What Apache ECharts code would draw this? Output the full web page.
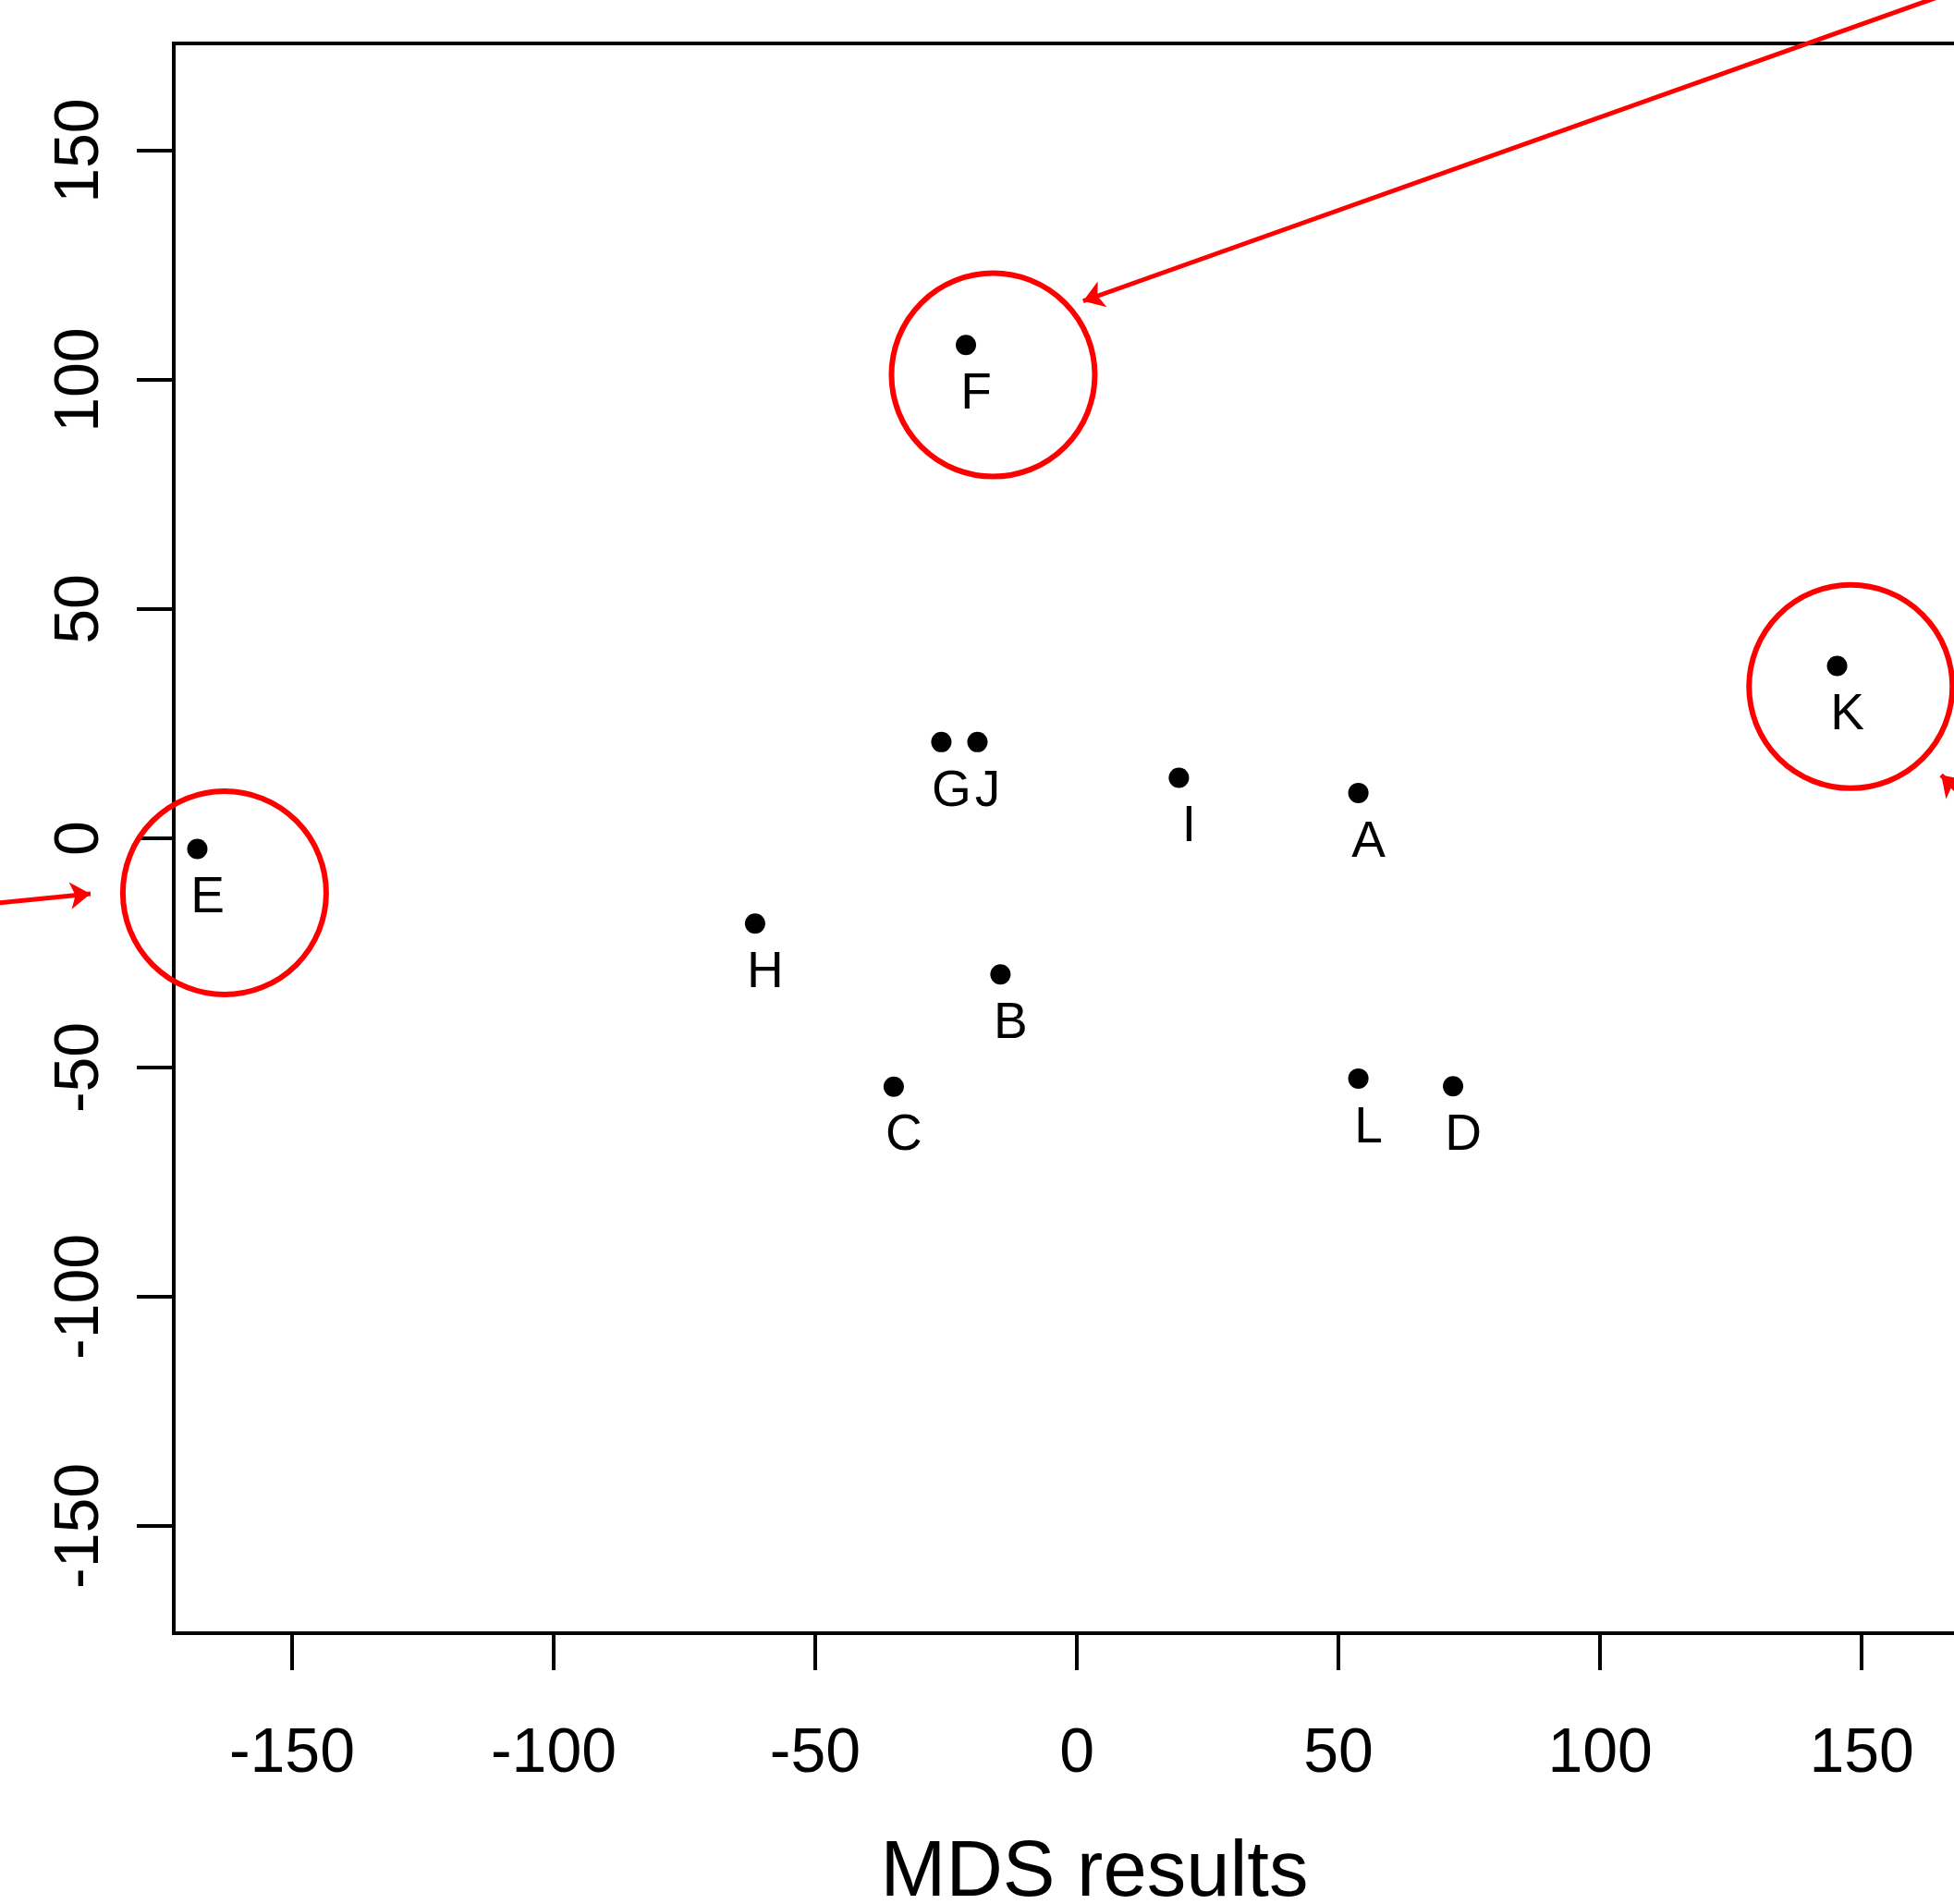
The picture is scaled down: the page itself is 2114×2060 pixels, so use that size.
<!DOCTYPE html>
<html>
<head>
<meta charset="utf-8">
<script src="https://cdn.jsdelivr.net/npm/echarts@6/dist/echarts.min.js"></script>
<style>
  html, body { margin: 0; padding: 0; background: #fff; }
  #chart { width: 2114px; height: 2060px; }
</style>
</head>
<body>
<div id="chart"></div>
<script>
const pointNames = ['A', 'B', 'C', 'D', 'E', 'F', 'G', 'H', 'I', 'J', 'K', 'L'];
const mdsX = [53.8, -14.6, -35.0, 71.9, -168.1, -21.2, -25.9, -61.5, 19.5, -19.0, 145.3, 53.8];
const mdsY = [9.9, -29.7, -54.2, -54.1, -2.3, 107.6, 21.0, -18.6, 13.2, 21.0, 37.6, -52.4];

// red highlight circles (centres) around E, F and K
const circleX = [-162.9, -16.0, 147.9];
const circleY = [-11.9, 101.1, 33.1];

// arrows: tail -> head
const arrowFrom = [[183, 191], [-223.5, -16.1], [191.7, -16.4]];
const arrowTo = [[1.2, 117.2], [-188.5, -12.1], [165.2, 13.8]];

const xTicks = [-150, -100, -50, 0, 50, 100, 150];
const yTicks = [-150, -100, -50, 0, 50, 100, 150];

const font = 'Liberation Sans, Arial, Helvetica, sans-serif';

const chart = echarts.init(document.getElementById('chart'));

const option = {
  animation: false,
  backgroundColor: '#fff',
  grid: {
    left: 188,
    top: 47,
    height: 1720,
    width: 1992,
    outerBoundsMode: 'none',
    containLabel: false,
    show: true,
    borderColor: '#000',
    borderWidth: 4,
    backgroundColor: 'transparent',
  },
  xAxis: {
    type: 'value',
    min: -172.6,
    max: 179.3,
    axisLine: { show: false, onZero: false },
    splitLine: { show: false },
    axisTick: {
      show: true,
      length: 40,
      customValues: xTicks,
      lineStyle: { color: '#000', width: 4 },
    },
    axisLabel: {
      customValues: xTicks,
      margin: 97,
      fontSize: 68,
      color: '#000',
      fontFamily: font,
    },
    name: 'MDS results',
    nameLocation: 'middle',
    nameGap: 218,
    nameTextStyle: { fontSize: 85, color: '#000', fontFamily: font },
  },
  yAxis: {
    type: 'value',
    min: -173.4,
    max: 173.4,
    axisLine: { show: false, onZero: false },
    splitLine: { show: false },
    axisTick: {
      show: true,
      length: 40,
      customValues: yTicks,
      lineStyle: { color: '#000', width: 4 },
    },
    axisLabel: {
      customValues: yTicks,
      rotate: 90,
      margin: 67,
      fontSize: 68,
      color: '#000',
      fontFamily: font,
    },
  },
  series: [
    {
      name: 'points',
      type: 'scatter',
      symbol: 'circle',
      symbolSize: 22,
      itemStyle: { color: '#000', opacity: 1 },
      data: mdsX.map((x, i) => ({ value: [x, mdsY[i]], name: pointNames[i] })),
      label: {
        show: true,
        position: 'bottom',
        distance: 15,
        offset: [11, 0],
        formatter: '{b}',
        fontSize: 55,
        color: '#000',
        opacity: 1,
        fontFamily: font,
      },
    },
    {
      name: 'circles',
      type: 'scatter',
      symbol: 'circle',
      symbolSize: 220,
      clip: false,
      silent: true,
      itemStyle: { color: 'transparent', borderColor: '#ff0000', borderWidth: 6, opacity: 1 },
      data: circleX.map((x, i) => [x, circleY[i]]),
    },
    {
      name: 'arrows',
      type: 'lines',
      coordinateSystem: 'cartesian2d',
      clip: false,
      silent: true,
      symbol: ['none', 'arrow'],
      symbolSize: 22,
      lineStyle: { color: '#ff0000', width: 5, opacity: 1 },
      data: arrowFrom.map((from, i) => ({ coords: [from, arrowTo[i]] })),
    },
  ],
};

chart.setOption(option);
</script>
</body>
</html>
